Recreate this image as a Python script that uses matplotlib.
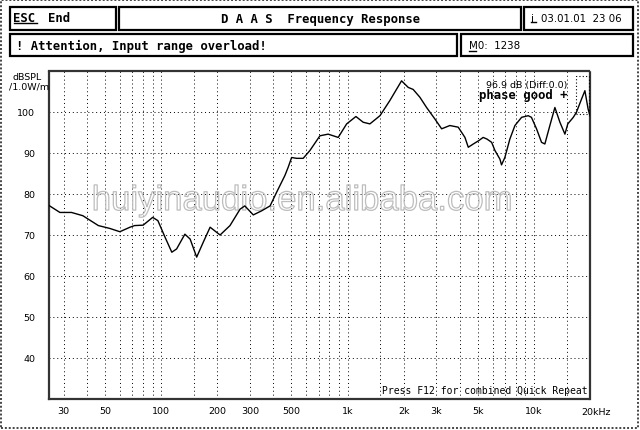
import matplotlib
matplotlib.use('Agg')
import matplotlib.pyplot as plt
from matplotlib.patches import Rectangle
from matplotlib.lines import Line2D
import matplotlib.patheffects as pe

# ---------------- data ----------------
freq_hz = [25, 28.6, 33, 38, 46, 53, 60, 68, 72, 80, 90, 96, 105, 114, 121, 134, 143,
           155, 168, 183, 207, 234, 265, 281, 312, 346, 384, 416, 461, 480, 501, 533,
           578, 628, 711, 787, 891, 989, 1109, 1213, 1318, 1493, 1687, 1949, 2116,
           2250, 2444, 2655, 2942, 3198, 3539, 3925, 4265, 4445, 4730, 5053, 5340,
           5600, 5933, 6180, 6572, 6702, 6985, 7430, 7910, 8590, 9320, 9700, 10330,
           10990, 11450, 12180, 12960, 13790, 14670, 15200, 16270, 16900, 18030,
           18780, 19540, 20000]
spl_db = [77.2, 75.5, 75.5, 74.7, 72.3, 71.6, 70.8, 71.9, 72.3, 72.4, 74.3, 73.5,
          69.4, 65.8, 66.6, 70.2, 69.0, 64.6, 68.2, 71.9, 70.0, 72.3, 76.3, 77.1,
          74.9, 75.9, 77.1, 80.4, 84.5, 86.5, 88.9, 88.7, 88.7, 90.6, 94.2, 94.6,
          93.8, 97.1, 98.9, 97.5, 97.1, 99.1, 102.8, 107.6, 106.0, 105.5, 103.6,
          101.1, 98.3, 95.9, 96.7, 96.3, 93.8, 91.4, 92.2, 93.0, 93.8, 93.4, 92.6,
          90.6, 88.5, 87.1, 88.9, 93.4, 96.7, 98.7, 99.1, 98.7, 95.9, 92.6, 92.2,
          96.7, 101.1, 97.5, 94.6, 97.1, 98.7, 99.9, 103.2, 105.2, 100.7, 99.1]

x_tick_values = [30, 50, 100, 200, 300, 500, 1000, 2000, 3000, 5000, 10000]
x_tick_labels = ['30', '50', '100', '200', '300', '500', '1k', '2k', '3k', '5k', '10k']
x_grid_values = [40, 60, 70, 80, 90, 150, 400, 600, 700, 800, 900, 1500, 4000,
                 6000, 7000, 8000, 9000, 15000, 20000]
y_tick_values = [40, 50, 60, 70, 80, 90, 100]
y_tick_labels = ['40', '50', '60', '70', '80', '90', '100']

W, H = 640, 431
fig = plt.figure(figsize=(W / 100, H / 100), dpi=100)
fig.patch.set_facecolor('white')

MONO = 'DejaVu Sans Mono'
SANS = 'DejaVu Sans'


def P(x, y):
    return (x / W, 1 - y / H)


def box(x0, y0, x1, y1, lw=1.6, ls='-', ec='black'):
    fig.add_artist(Rectangle(P(x0, y1), (x1 - x0) / W, (y1 - y0) / H,
                             transform=fig.transFigure, fill=False, lw=lw,
                             ec=ec, ls=ls))


def hline(x0, x1, y, lw=1.0):
    fig.add_artist(Line2D([x0 / W, x1 / W], [1 - y / H, 1 - y / H],
                          transform=fig.transFigure, color='black', lw=lw))


# outer checker border
box(1, 1, 638, 429, lw=1.4, ls=(0, (1, 1)), ec='#444444')

# header boxes
box(9.5, 7.5, 116, 30.5)
box(118.5, 7.5, 521, 30.5)
box(523.5, 7.5, 632.5, 30.5)
box(9.5, 35, 456.5, 57)
box(460.5, 35, 632.5, 57)

fig.text(*P(13, 19), 'ESC', family=MONO, weight='bold', fontsize=8.8, va='center')
hline(13.5, 37, 23.5)
fig.text(*P(48, 19), 'End', family=MONO, weight='bold', fontsize=8.8, va='center')
fig.text(*P(321, 19), 'D A A S  Frequency Response', family=MONO, weight='bold',
         fontsize=8.8, va='center', ha='center')
fig.text(*P(531, 18.5), 'i', family=SANS, fontsize=7.4, va='center')
hline(531, 536, 23)
fig.text(*P(541, 18.5), '03.01.01  23 06', family=SANS, fontsize=7.4, va='center')
fig.text(*P(16, 46.5), '! Attention, Input range overload!', family=MONO,
         weight='bold', fontsize=8.8, va='center')
fig.text(*P(469, 46), 'M0:  1238', family=SANS, fontsize=7.4, va='center')
hline(469, 476, 51.5)

# axis unit labels
fig.text(*P(42, 77), 'dBSPL', family=SANS, fontsize=6.8, va='center', ha='right')
fig.text(*P(49, 87.5), '/1.0W/m', family=SANS, fontsize=6.8, va='center', ha='right')

# ---------------- plot ----------------
ax = fig.add_axes([49 / W, 1 - 400 / H, (590 - 49) / W, (400 - 72) / H])
ax.set_xscale('log')
ax.set_xlim(25, 20000)
ax.set_ylim(30, 110)

ax.set_xticks(x_tick_values)
ax.set_xticklabels(x_tick_labels, family=SANS, fontsize=6.8)
ax.set_xticks(x_grid_values, minor=True)
ax.set_xticklabels([''] * len(x_grid_values), minor=True)
ax.set_yticks(y_tick_values)
ax.set_yticklabels(y_tick_labels, family=SANS, fontsize=6.8)
ax.tick_params(axis='both', which='both', length=0)
ax.tick_params(axis='x', pad=5)
ax.tick_params(axis='y', pad=10)

gridstyle = dict(color='black', lw=0.7, ls=(0, (1, 3)))
ax.grid(True, which='major', axis='both', **gridstyle)
ax.grid(True, which='minor', axis='x', **gridstyle)
ax.set_axisbelow(True)

for s in ax.spines.values():
    s.set_linewidth(1.6)
    s.set_linestyle((0, (1, 1)))
    s.set_color('#333333')

ax.annotate('20kHz', xy=(20000, 0), xycoords=('data', 'axes fraction'),
            xytext=(-6, -9), textcoords='offset points', fontsize=6.8,
            family=SANS, ha='left', va='center')

# watermark (hollow outlined letters)
ax.text(0.468, 0.605, 'huiyinaudio.en.alibaba.com', transform=ax.transAxes,
        family='Liberation Sans', fontsize=25, color='none', ha='center',
        va='center', zorder=1,
        path_effects=[pe.Stroke(linewidth=0.9, foreground='#bdbdbd')])

ax.plot(freq_hz, spl_db, color='black', lw=1.0, zorder=3)

# info texts
ax.text(0.958, 0.960, '96.9 dB (Diff:0.0)', transform=ax.transAxes, family=SANS,
        fontsize=6.8, ha='right', va='center', zorder=4)
ax.text(0.958, 0.928, 'phase good +', transform=ax.transAxes, family=MONO,
        weight='bold', fontsize=8.8, ha='right', va='center', zorder=4)
ax.add_patch(Rectangle((0.975, 0.87), 0.024, 0.115, transform=ax.transAxes,
                       fill=False, lw=0.8, ls=(0, (1, 2)), ec='black', zorder=4))
ax.text(0.995, 0.012, 'Press F12 for combined Quick Repeat', transform=ax.transAxes,
        family=MONO, fontsize=7, ha='right', va='bottom', zorder=4)

fig.savefig('out.png', dpi=100, facecolor='white')
